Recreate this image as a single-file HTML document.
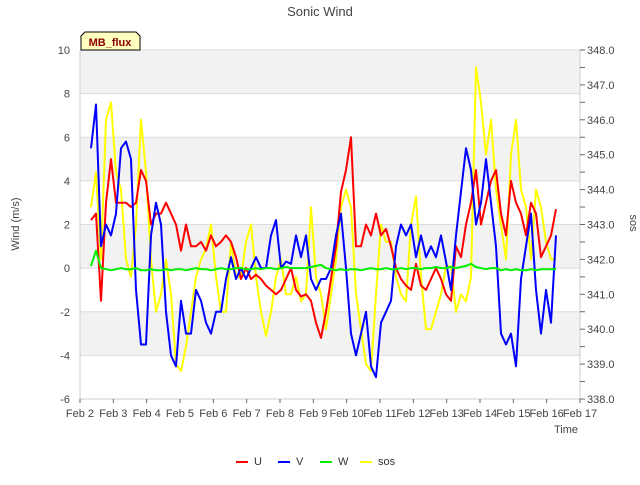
<!DOCTYPE html>
<html><head><meta charset="utf-8"><style>
body{margin:0;background:#fff;font-family:"Liberation Sans",sans-serif;}
svg text{font-family:"Liberation Sans",sans-serif;}
</style></head><body>
<svg id="c" width="640" height="480"></svg>
<script>
const dayLabels=["Feb 2","Feb 3","Feb 4","Feb 5","Feb 6","Feb 7","Feb 8","Feb 9","Feb 10","Feb 11","Feb 12","Feb 13","Feb 14","Feb 15","Feb 16","Feb 17"];
const leftTicks=[-6,-4,-2,0,2,4,6,8,10];
const rightTicks=[338,339,340,341,342,343,344,345,346,347,348];
const tStart=0.33, tStep=0.15;
const U=[2.2,2.5,-1.5,3,5,3,3,3,2.8,3,4.5,4,2,2.5,2.5,3,2.5,2,0.8,2,1,1,1.2,0.8,1.5,1,1.2,1.5,1.2,0.5,-0.5,0,-0.5,-0.3,-0.5,-0.8,-1,-1.2,-1,-0.5,0,-1,-1.3,-1.2,-1.5,-2.5,-3.2,-2,-0.5,1,3.5,4.5,6,1,1,2,1.5,2.5,1.5,1.8,1,0,-0.5,-0.8,-1,0.2,-0.8,-1,-0.5,0,-0.5,-1.2,-1.5,1,0.5,2,3,4.5,2,3,4,4.5,2.5,1.5,4,3,2.5,1.5,3,2.5,0.5,1,1.5,2.7];
const V=[5.5,7.5,1,2,1.5,2.5,5.5,5.8,5,-1,-3.5,-3.5,1.5,3,2,-2,-4,-4.5,-1.5,-3,-3,-1,-1.5,-2.5,-3,-2,-2,-0.5,0.5,-0.5,0,-0.5,0,0.5,0,0,1.5,2.2,0,0.3,0.2,1.5,0.5,1.5,-0.5,-1,-0.5,-0.5,0,1.5,2.5,0,-3,-4,-3,-2,-4.5,-5,-2.5,-2,-1.5,1,2,1.5,2,0.5,1.5,0.5,1,0.5,1.5,0.3,-1,1.5,3.5,5.5,4.5,2,3,5,3,1,-3,-3.5,-3,-4.5,-0.5,1,2.5,-1,-3,-1,-2.5,1.5];
const W=[0.1,0.8,0,-0.05,-0.1,-0.05,0,-0.05,-0.05,0,-0.1,-0.1,-0.05,-0.1,-0.1,-0.05,-0.1,-0.05,-0.05,-0.1,-0.05,0,-0.05,-0.05,-0.1,-0.05,0,-0.05,-0.05,0,0,-0.05,-0.05,0,-0.05,0,0,-0.05,0,0.05,0,0,0,0,0.05,0.1,0.15,0,-0.05,-0.1,-0.05,-0.1,-0.05,-0.05,-0.1,-0.05,0,-0.05,-0.05,0,-0.05,-0.05,0,-0.05,0,0,-0.05,0,0,0.05,0,0,0.05,0,0.05,0.1,0.2,0.05,0,-0.05,0,0,-0.1,-0.05,-0.1,-0.05,-0.1,-0.1,-0.05,-0.1,-0.05,-0.05,-0.05,-0.05];
const SOS=[343.5,344.5,342,346,346.5,344.5,344,342,341.5,343,346,344.5,342,340.5,341,342,341,339,338.8,339.5,340.5,341.5,342,342.3,343,341.5,340.5,340.5,342.5,341.5,341.5,342.5,343,341.5,340.5,339.8,340.5,341.5,342,341,341,341.5,340.8,341,343.5,341.5,341,340,341,342,343.5,344,343.5,341,340,339,338.8,341,343,342.5,342.5,341.5,341,340.8,343,343.8,341.5,340,340,340.5,341,341.8,341.8,340.5,341,340.8,341.5,347.5,346.5,345,346,344,343,342,345,346,344,343.5,342,344,343.5,342.5,342,342];

const NS="http://www.w3.org/2000/svg";
const svg=document.getElementById('c');
const L=80,R=580,T=50,B=399;
const xS=d=>L+d*(R-L)/15;
const yS=v=>B-(v+6)*(B-T)/16;
const yR=v=>B-(v-338)*(B-T)/10;
function mk(tag,attrs,parent){const e=document.createElementNS(NS,tag);for(const k in attrs)e.setAttribute(k,attrs[k]);(parent||svg).appendChild(e);return e;}

const plot=mk('g',{});


for(let v=-6;v<10;v+=2){
  if(((v+6)/2)%2===1){const r=mk('rect',{x:L,y:yS(v+2),width:R-L,height:yS(v)-yS(v+2),fill:'#f2f2f2'},plot);
  
  }
}
leftTicks.forEach(v=>{const g=mk('line',{x1:L,x2:R,y1:yS(v),y2:yS(v),stroke:'#dcdcdc','stroke-width':1},plot);

});
mk('line',{x1:L,x2:L,y1:T,y2:B,stroke:'#ccc'},plot);
mk('line',{x1:L,x2:R,y1:B,y2:B,stroke:'#ccc'},plot);
mk('line',{x1:R,x2:R,y1:T,y2:B,stroke:'#ccc'},plot);

leftTicks.forEach(v=>{const t=mk('text',{x:L-10,y:yS(v)+4,'text-anchor':'end','font-size':11,fill:'#444'});t.textContent=v;

});
rightTicks.forEach(v=>{const t=mk('text',{x:R+7,y:yR(v)+4,'font-size':11,fill:'#444'});t.textContent=v.toFixed(1);

});
for(let v=338;v<=348;v+=0.5){mk('line',{x1:R,x2:R+5,y1:yR(v),y2:yR(v),stroke:'#666'});}
dayLabels.forEach((s,i)=>{mk('line',{x1:xS(i),x2:xS(i),y1:B,y2:B+4,stroke:'#666'});
const t=mk('text',{x:xS(i),y:B+18,'text-anchor':'middle','font-size':11,fill:'#444'});t.textContent=s;

});

function series(arr,ys,color,name){
  const d=arr.map((v,i)=>(i?'L':'M')+xS(tStart+i*tStep).toFixed(1)+','+ys(v).toFixed(1)).join('');
  const p=mk('path',{d:d,fill:'none',stroke:color,'stroke-width':2,'stroke-linejoin':'round'});
  
  
}
series(SOS,yR,'#ffff00','sos-line');
series(U,yS,'#ff0000','u-line');
series(V,yS,'#0000ff','v-line');
series(W,yS,'#00ee00','w-line');

let t=mk('text',{x:320,y:16,'text-anchor':'middle','font-size':13,fill:'#444'});t.textContent='Sonic Wind';


t=mk('text',{x:19,y:224,'text-anchor':'middle','font-size':11,fill:'#444',transform:'rotate(-90 19 224)'});t.textContent='Wind (m/s)';


t=mk('text',{x:630,y:223,'text-anchor':'middle','font-size':11,fill:'#444',transform:'rotate(90 630 223)'});t.textContent='sos';


t=mk('text',{x:566,y:433,'text-anchor':'middle','font-size':11,fill:'#444'});t.textContent='Time';



const badge=mk('g',{});


mk('path',{d:'M81,50 L81,36 L85,32 L136,32 L140,36 L140,50 Z',fill:'#ffffc0',stroke:'#000'},badge);
t=mk('text',{x:110,y:46,'text-anchor':'middle','font-size':11,'font-weight':'bold',fill:'#8b0000'},badge);t.textContent='MB_flux';

const leg=[['U','#ff0000',236],['V','#0000ff',278],['W','#00ee00',320],['sos','#ffff00',360]];
leg.forEach(([n,c,x])=>{const g=mk('g',{});


mk('line',{x1:x,x2:x+12,y1:462,y2:462,stroke:c,'stroke-width':2},g);
const tt=mk('text',{x:x+18,y:465,'font-size':11,fill:'#333'},g);tt.textContent=n;});
</script>
</body></html>
